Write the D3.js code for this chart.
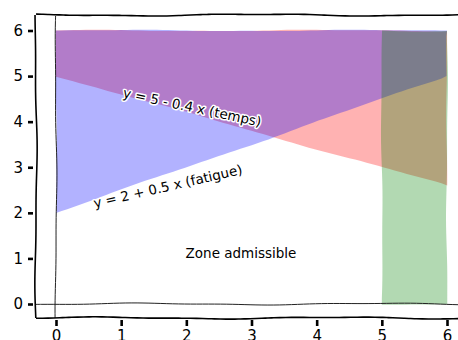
<!DOCTYPE html>
<html>
<head>
<meta charset="utf-8">
<script src="https://cdn.jsdelivr.net/npm/d3@7"></script>
<style>
  body { margin: 0; background: #fff; }
  text { font-family: "Humor Sans", "Comic Sans MS", "DejaVu Sans", sans-serif; }
</style>
</head>
<body>
<div id="chart"></div>
<script>
// data
const xTicks = [0, 1, 2, 3, 4, 5, 6];
const yTicks = [0, 1, 2, 3, 4, 5, 6];
const lineX = [0, 6];
const fatigueY = [2, 5];     // y = 2 + 0.5 x
const tempsY = [5, 2.6];     // y = 5 - 0.4 x
const topY = 6;
const greenX = [5, 6];
const greenY = [0, 6];
const labels = ["y = 5 - 0.4 x (temps)", "y = 2 + 0.5 x (fatigue)", "Zone admissible"];

const W = 458, H = 340;

const svg = d3.select("#chart").append("svg")
    .attr("width", W)
    .attr("height", H);

const x = d3.scaleLinear().domain([0, 6]).range([56, 447]);
const y = d3.scaleLinear().domain([0, 6]).range([304, 30.5]);

// hand drawn look: wobble a straight segment
function wobble(p0, p1, amp, seed) {
    let len = Math.hypot(p1[0] - p0[0], p1[1] - p0[1]);
    let n = Math.max(2, Math.ceil(len / 6));
    let nx = -(p1[1] - p0[1]) / len, ny = (p1[0] - p0[0]) / len;
    let pts = [];
    for (let i = 0; i <= n; i++) {
        let t = i / n;
        let d = amp * (0.7 * Math.sin(t * len / 38 + seed) + 0.3 * Math.sin(t * len / 15 + seed * 2.3));
        pts.push([p0[0] + t * (p1[0] - p0[0]) + nx * d, p0[1] + t * (p1[1] - p0[1]) + ny * d]);
    }
    return pts;
}

function polygon(corners, amp, seed) {
    let pts = [];
    for (let i = 0; i < corners.length; i++) {
        let a = corners[i], b = corners[(i + 1) % corners.length];
        pts = pts.concat(wobble(a, b, amp, seed + i * 1.7).slice(0, -1));
    }
    return pts;
}

const area = d3.line().curve(d3.curveLinearClosed);
const path = d3.line().curve(d3.curveBasis);

// red: temps line up to 6
let redC = [[x(lineX[0]), y(tempsY[0])], [x(lineX[1]), y(tempsY[1])], [x(lineX[1]), y(topY)], [x(lineX[0]), y(topY)]];
svg.append("path").attr("d", area(polygon(redC, 0.9, 1.1)))
    .attr("fill", "red").attr("fill-opacity", 0.3);

// blue: fatigue line up to 6
let blueC = [[x(lineX[0]), y(fatigueY[0])], [x(lineX[1]), y(fatigueY[1])], [x(lineX[1]), y(topY)], [x(lineX[0]), y(topY)]];
svg.append("path").attr("d", area(polygon(blueC, 0.9, 2.4)))
    .attr("fill", "blue").attr("fill-opacity", 0.3);

// green band
let greenC = [[x(greenX[0]), y(greenY[0])], [x(greenX[1]), y(greenY[0])], [x(greenX[1]), y(greenY[1])], [x(greenX[0]), y(greenY[1])]];
svg.append("path").attr("d", area(polygon(greenC, 1, 0.6)))
    .attr("fill", "green").attr("fill-opacity", 0.3);

// lines at x=0 and y=0
svg.append("path").attr("d", path(wobble([x(0), 16], [x(0), 318], 1, 0.3)))
    .attr("fill", "none").attr("stroke", "#222").attr("stroke-width", 1);
svg.append("path").attr("d", path(wobble([36, y(0)], [470, y(0)], 1.1, 2.0)))
    .attr("fill", "none").attr("stroke", "#222").attr("stroke-width", 1);

// frame (right side falls outside the picture)
const frame = [[[36, 15], [36, 318]], [[36, 318], [470, 318]], [[36, 15], [470, 15]]];
frame.forEach((f, i) => {
    svg.append("path").attr("d", path(wobble(f[0], f[1], 1.2, 1 + i * 2.1)))
        .attr("fill", "none").attr("stroke", "#000").attr("stroke-width", 1.6);
});

// axes
const yAxis = svg.append("g")
    .attr("transform", "translate(33,0)")
    .call(d3.axisLeft(y).tickValues(yTicks).tickSize(5).tickPadding(5).tickFormat(d3.format("d")));
const xAxis = svg.append("g")
    .attr("transform", "translate(0,320)")
    .call(d3.axisBottom(x).tickValues(xTicks).tickSize(6).tickPadding(4).tickFormat(d3.format("d")));
[xAxis, yAxis].forEach(g => {
    g.select(".domain").remove();
    g.selectAll(".tick line").attr("stroke", "#000").attr("stroke-width", 2.6);
    g.selectAll(".tick text").attr("fill", "#000").style("font-size", "15px");
});

// annotations with white halo
function note(txt, cx, cy, angle, size) {
    svg.append("text")
        .attr("transform", "translate(" + cx + "," + cy + ") rotate(" + angle + ")")
        .attr("text-anchor", "middle")
        .attr("dominant-baseline", "middle")
        .style("font-size", size + "px")
        .attr("fill", "#000")
        .attr("stroke", "#fff")
        .attr("stroke-width", 3)
        .attr("stroke-linejoin", "round")
        .attr("paint-order", "stroke")
        .text(txt);
}
note(labels[0], 192, 108, 12, 13.5);
note(labels[1], 168, 187, -13, 13.5);
note(labels[2], 241, 254, 0, 13.5);
</script>
</body>
</html>
